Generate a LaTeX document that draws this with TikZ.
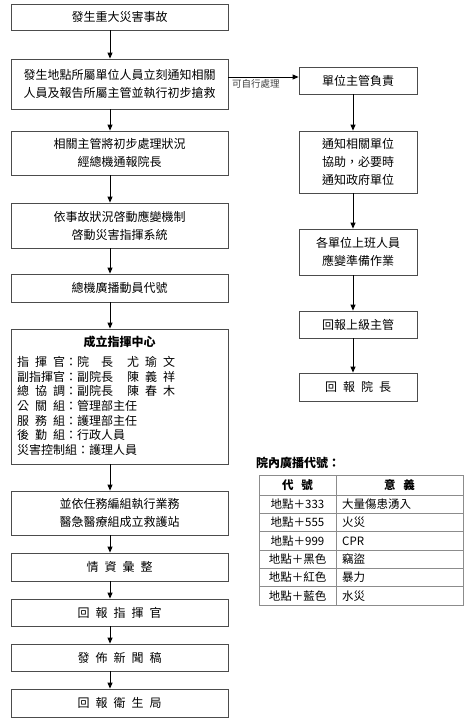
\documentclass[tikz,border=0pt]{standalone}
\usepackage{fontspec}
\setmainfont{Noto Sans CJK TC}
\usetikzlibrary{arrows.meta,calc}
\newcommand\sgap{\hspace{6pt}}
\begin{document}
\begin{tikzpicture}[x=1pt,y=-1pt,
  box/.style={draw=black!70, line width=0.8pt, minimum width=217pt, align=center, inner sep=0pt, font=\fontsize{12}{18}\selectfont},
  rbox/.style={box, minimum width=118pt},
  arr/.style={draw=black, line width=1pt, -{Triangle[length=6pt,width=5pt]}},
  tline/.style={draw=black!45, line width=0.7pt},
  tcell/.style={inner sep=0pt, font=\fontsize{11.5}{14}\selectfont},
  ]
\useasboundingbox (0,0) rectangle (474,725);
\fill[white] (0,0) rectangle (474,725);
\coordinate (ax) at (110,0);
\coordinate (bx) at (353,0);
% left column
\node[box, minimum height=26pt] (b1) at (119.5,17) {發生重大災害事故};
\node[box, minimum height=50pt] (b2) at (119.5,84) {發生地點所屬單位人員立刻通知相關\\人員及報告所屬主管並執行初步搶救};
\node[box, minimum height=44pt] (b3) at (119.5,153) {相關主管將初步處理狀況\\經總機通報院長};
\node[box, minimum height=45pt] (b4) at (119.5,225.5) {依事故狀況啓動應變機制\\啓動災害指揮系統};
\node[box, minimum height=28pt] (b5) at (119.5,288) {總機廣播動員代號};
\node[box, minimum height=135pt] (b6) at (119.5,396.5) {};
\node[inner sep=0pt, font=\fontsize{12}{14}\selectfont\bfseries] (t6) at (119.5,342) {成立指揮中心};
\node[anchor=north west, inner sep=0pt, align=left, font=\fontsize{12}{14.7}\selectfont] (roster) at (17,356) {%
\makebox[48pt][s]{指\hfill 揮\hfill 官}：\makebox[36pt][s]{院\hfill 長}\hspace{14pt}\makebox[48pt][s]{尤\hfill 瑜\hfill 文}\\
副指揮官：副院長\hspace{14pt}\makebox[48pt][s]{陳\hfill 義\hfill 祥}\\
\makebox[48pt][s]{總\hfill 協\hfill 調}：副院長\hspace{14pt}\makebox[48pt][s]{陳\hfill 春\hfill 木}\\
\makebox[48pt][s]{公\hfill 關\hfill 組}：管理部主任\\
\makebox[48pt][s]{服\hfill 務\hfill 組}：護理部主任\\
\makebox[48pt][s]{後\hfill 勤\hfill 組}：行政人員\\
災害控制組：護理人員};
\node[box, minimum height=44pt] (b7) at (119.5,513) {並依任務編組執行業務\\醫急醫療組成立救護站};
\node[box, minimum height=28pt] (b8) at (119.5,567) {情\sgap 資\sgap 彙\sgap 整};
\node[box, minimum height=27pt] (b9) at (119.5,612.5) {回\sgap 報\sgap 指\sgap 揮\sgap 官};
\node[box, minimum height=27pt] (b10) at (119.5,657.5) {發\sgap 佈\sgap 新\sgap 聞\sgap 稿};
\node[box, minimum height=28pt] (b11) at (119.5,703) {回\sgap 報\sgap 衛\sgap 生\sgap 局};
% right column
\node[rbox, minimum height=27pt] (r1) at (358,80.5) {單位主管負責};
\node[rbox, minimum height=62pt] (r2) at (358,162) {通知相關單位\\協助，必要時\\通知政府單位};
\node[rbox, minimum height=46pt] (r3) at (358,252) {各單位上班人員\\應變準備作業};
\node[rbox, minimum height=27pt] (r4) at (358,324.5) {回報上級主管};
\node[rbox, minimum height=28pt] (r5) at (358,387) {回\sgap 報\sgap 院\sgap 長};
% left arrows
\foreach \a/\b in {b1/b2,b2/b3,b3/b4,b4/b5,b5/b6,b6/b7,b7/b8,b8/b9,b9/b10,b10/b11}
  \draw[arr] (\a.south -| ax) -- (\b.north -| ax);
% right arrows
\foreach \a/\b in {r1/r2,r2/r3,r3/r4,r4/r5}
  \draw[arr] (\a.south -| bx) -- (\b.north -| bx);
% side arrow
\coordinate (sa) at (b2.east |- 0,77);
\draw[arr] (sa) -- (sa -| r1.west);
\node[anchor=north west, inner sep=0pt, font=\fontsize{9.5}{11}\selectfont, text=black!75] (lab) at (232,79) {可自行處理};
% table
\node[anchor=west, inner sep=0pt, font=\fontsize{12}{14}\selectfont\bfseries] (ttl) at (256,463) {院內廣播代號：};
\draw[tline] (259,475) rectangle (463,605);
\foreach \y in {495,513.33,531.67,550,568.33,586.67} \draw[tline] (259,\y) -- (463,\y);
\draw[tline] (336,475) -- (336,605);
\node[tcell, font=\fontsize{11.5}{14}\selectfont\bfseries] (h1) at (297.5,485) {代\hspace{8pt}號};
\node[tcell, font=\fontsize{11.5}{14}\selectfont\bfseries] (h2) at (399.5,485) {意\hspace{8pt}義};
\node[tcell] (c11) at (297.5,504) {地點＋333};
\node[tcell] (c21) at (297.5,522.5) {地點＋555};
\node[tcell] (c31) at (297.5,541) {地點＋999};
\node[tcell] (c41) at (297.5,559) {地點＋黑色};
\node[tcell] (c51) at (297.5,577.5) {地點＋紅色};
\node[tcell] (c61) at (297.5,596) {地點＋藍色};
\node[tcell, anchor=west] (c12) at (342,504) {大量傷患湧入};
\node[tcell, anchor=west] (c22) at (342,522.5) {火災};
\node[tcell, anchor=west] (c32) at (342,541) {CPR};
\node[tcell, anchor=west] (c42) at (342,559) {竊盜};
\node[tcell, anchor=west] (c52) at (342,577.5) {暴力};
\node[tcell, anchor=west] (c62) at (342,596) {水災};
\end{tikzpicture}
\end{document}
